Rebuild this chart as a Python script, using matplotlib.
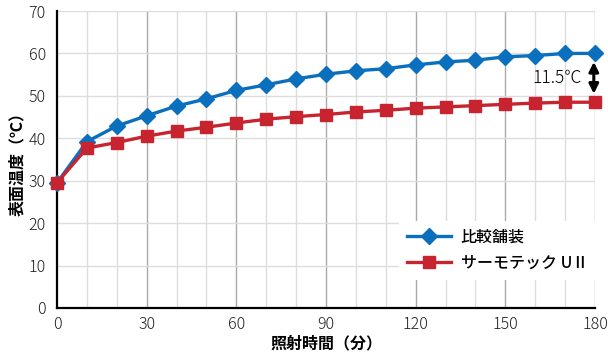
import matplotlib
matplotlib.use("Agg")
import matplotlib.pyplot as plt

plt.rcParams['font.family'] = ['Noto Sans CJK JP', 'DejaVu Sans']

minutes = [0, 10, 20, 30, 40, 50, 60, 70, 80, 90, 100, 110, 120, 130, 140, 150, 160, 170, 180]
comparison = [29.5, 39.2, 42.9, 45.3, 47.6, 49.3, 51.3, 52.6, 54.0, 55.1, 55.9, 56.4, 57.3, 58.0, 58.4, 59.2, 59.5, 60.0, 60.0]
thermotec = [29.5, 37.7, 39.0, 40.5, 41.7, 42.6, 43.6, 44.5, 45.1, 45.6, 46.2, 46.6, 47.1, 47.4, 47.7, 48.0, 48.3, 48.5, 48.5]
series_names = ['比較舗装', 'サーモテック UⅡ']
x_ticks = [0, 30, 60, 90, 120, 150, 180]
y_ticks = [0, 10, 20, 30, 40, 50, 60, 70]
diff_label = '11.5℃'

fig = plt.figure(figsize=(6.08, 3.54), dpi=100)
ax = fig.add_axes([57/608, 46/354, 538/608, 297/354])

ax.set_xlim(0, 180)
ax.set_ylim(0, 70)

# grid
for xv in range(10, 181, 10):
    col = '#aaaaaa' if xv % 30 == 0 else '#dddddd'
    ax.axvline(xv, color=col, lw=1.0, zorder=0)
for yv in range(10, 71, 10):
    ax.axhline(yv, color='#dddddd', lw=1.0, zorder=0)

ax.plot(minutes, comparison, color='#0a6fbd', lw=2.4, marker='D', ms=8.5,
        label=series_names[0], zorder=3, clip_on=False)
ax.plot(minutes, thermotec, color='#c8242f', lw=2.4, marker='s', ms=8,
        label=series_names[1], zorder=4, clip_on=False)

for s in ['top', 'right']:
    ax.spines[s].set_visible(False)
for s in ['left', 'bottom']:
    ax.spines[s].set_linewidth(1.6)
    ax.spines[s].set_color('black')

ax.set_xticks(x_ticks)
ax.set_yticks(y_ticks)
ax.tick_params(axis='x', length=0, pad=6, labelsize=11.5, labelcolor='#222222')
ax.tick_params(axis='y', length=0, pad=8, labelsize=11.5, labelcolor='#222222')
for lab in ax.get_xticklabels() + ax.get_yticklabels():
    lab.set_fontweight('light')

ax.set_xlabel('照射時間（分）', fontsize=11.5, fontweight='bold', va='center')
ax.set_ylabel('表面温度（℃）', fontsize=11.5, fontweight='bold', va='center')
ax.xaxis.set_label_coords(0.5, -35/297)
ax.yaxis.set_label_coords(-40/538, 0.5)

leg = ax.legend(loc='upper left', bbox_to_anchor=(0.62, 0.32), frameon=True,
                fancybox=False, edgecolor='white', framealpha=1.0,
                prop={'size': 11.5, 'weight': 'medium'},
                handlelength=2.8, handletextpad=0.6, borderpad=0.5, labelspacing=0.55)
leg.get_frame().set_linewidth(0)

ax.annotate('', xy=(179.6, 50.5), xytext=(179.6, 58.0),
            arrowprops=dict(arrowstyle='<|-|>', color='black', lw=2.2,
                            mutation_scale=14, shrinkA=0, shrinkB=0),
            annotation_clip=False, zorder=5)
ax.text(167.3, 54.2, diff_label, ha='center', va='center', fontsize=12.5,
        fontweight='light', zorder=5)

fig.savefig('out.png', dpi=100)
